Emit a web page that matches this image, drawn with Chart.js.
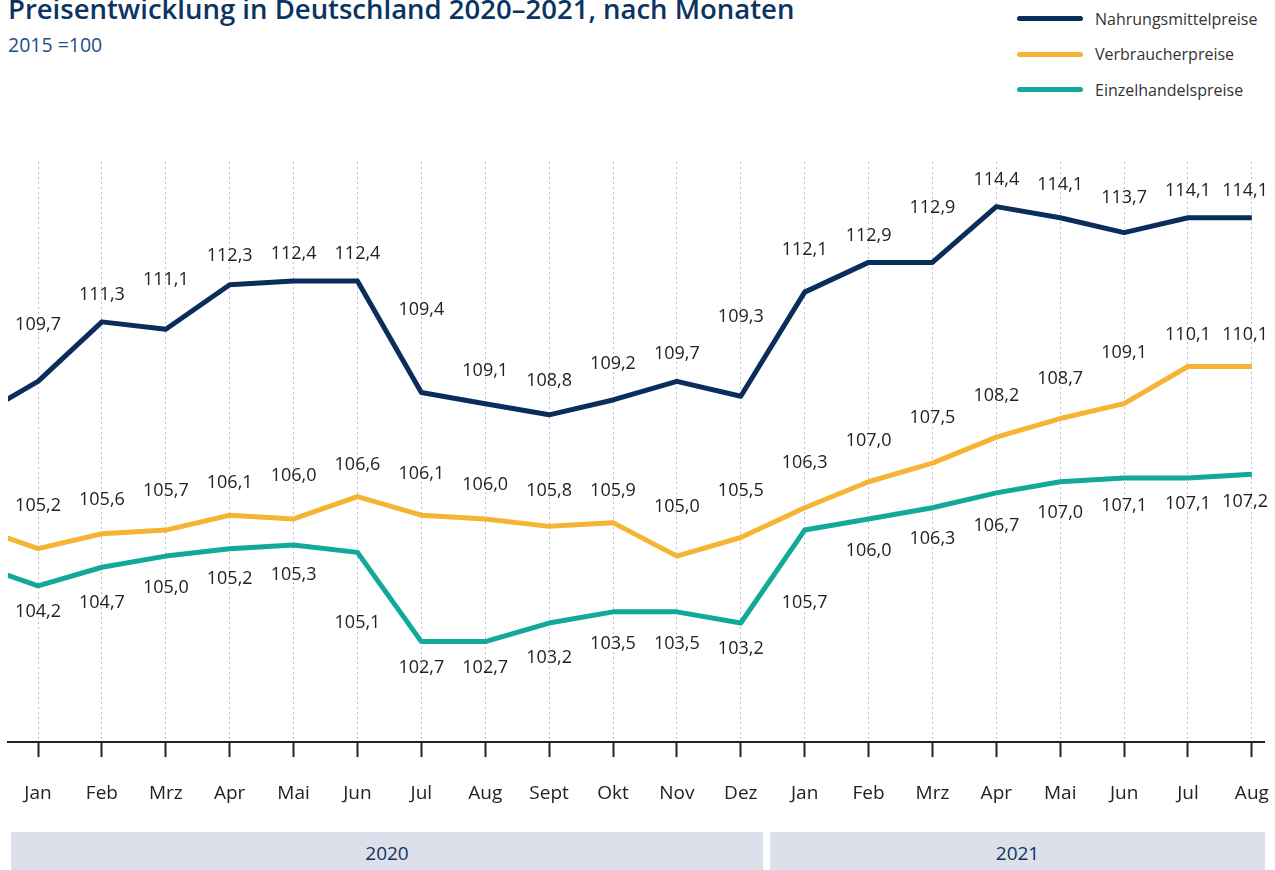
<!DOCTYPE html>
<html lang="de">
<head>
<meta charset="utf-8">
<title>Preisentwicklung in Deutschland 2020–2021</title>
<script src="https://cdn.jsdelivr.net/npm/chart.js@4/dist/chart.umd.min.js"></script>
<style>
  html, body { margin: 0; padding: 0; background: #fff; }
  body { width: 1275px; height: 870px; position: relative; overflow: hidden; font-family: "Open Sans", sans-serif; }
  .title { position: absolute; left: 8px; top: -10px; font-size: 27.5px; font-weight: 600; color: #0b3463; white-space: nowrap; }
  .sub { position: absolute; left: 8px; top: 31px; font-size: 19.5px; color: #1d4f85; }
  .legend { position: absolute; left: 1017px; top: 1px; font-size: 16px; color: #333; }
  .legend div { height: 35.5px; display: flex; align-items: center; }
  .legend span { display: inline-block; width: 66px; height: 5px; border-radius: 3px; margin-right: 12px; }
  .wrap { position: absolute; left: 0; top: 0; width: 1275px; height: 820px; }
  .year { position: absolute; top: 832px; height: 42px; background: #dde0ea; color: #0b3463; font-size: 19px; font-weight: 500; display: flex; align-items: center; justify-content: center; }
</style>
</head>
<body>
<div class="title">Preisentwicklung in Deutschland 2020–2021, nach Monaten</div>
<div class="sub">2015 =100</div>
<div class="legend" id="legend"></div>
<div class="wrap"><canvas id="myChart"></canvas></div>
<div class="year" style="left:11px;width:752px">2020</div>
<div class="year" style="left:770px;width:495px">2021</div>

<script>
// Monate Jan 2020 bis Aug 2021
let months = ['Jan', 'Feb', 'Mrz', 'Apr', 'Mai', 'Jun', 'Jul', 'Aug', 'Sept', 'Okt', 'Nov', 'Dez',
              'Jan', 'Feb', 'Mrz', 'Apr', 'Mai', 'Jun', 'Jul', 'Aug']

// erster Wert = Dez 2019 (nur angeschnitten am linken Rand)
let nahrung = [108.7, 109.7, 111.3, 111.1, 112.3, 112.4, 112.4, 109.4, 109.1, 108.8, 109.2, 109.7, 109.3,
               112.1, 112.9, 112.9, 114.4, 114.1, 113.7, 114.1, 114.1]
let verbraucher = [105.8, 105.2, 105.6, 105.7, 106.1, 106.0, 106.6, 106.1, 106.0, 105.8, 105.9, 105.0, 105.5,
                   106.3, 107.0, 107.5, 108.2, 108.7, 109.1, 110.1, 110.1]
let einzelhandel = [104.8, 104.2, 104.7, 105.0, 105.2, 105.3, 105.1, 102.7, 102.7, 103.2, 103.5, 103.5, 103.2,
                    105.7, 106.0, 106.3, 106.7, 107.0, 107.1, 107.1, 107.2]

let series = [
  { label: 'Nahrungsmittelpreise', values: nahrung, color: '#0a2d5c', side: 'above', gap: 27 },
  { label: 'Verbraucherpreise', values: verbraucher, color: '#f6b434', side: 'above', gap: 32 },
  { label: 'Einzelhandelspreise', values: einzelhandel, color: '#12a89a', side: 'below', gap: 26 }
]

let legend = document.getElementById('legend')
legend.innerHTML = series.map(s => `<div><span style="background:${s.color}"></span>${s.label}</div>`).join('')

const fmt = v => v.toFixed(1).replace('.', ',')

const valueLabels = {
  id: 'valueLabels',
  afterDatasetsDraw(chart) {
    const ctx = chart.ctx
    ctx.save()
    ctx.font = '18px "Open Sans"'
    ctx.fillStyle = '#222'
    ctx.textAlign = 'center'
    ctx.textBaseline = 'middle'
    chart.data.datasets.forEach((ds, di) => {
      const pts = chart.getDatasetMeta(di).data
      pts.forEach((p, i) => {
        if (i === 0) return
        let ys = [p.y]
        if (pts[i - 1]) ys.push((p.y + pts[i - 1].y) / 2)
        if (pts[i + 1]) ys.push((p.y + pts[i + 1].y) / 2)
        const y = ds.side === 'below' ? Math.max(...ys) + ds.gap : Math.min(...ys) - ds.gap
        const txt = fmt(ds.data[i].y)
        const w = ctx.measureText(txt).width
        const x = Math.min(p.x, chart.width - 7 - w / 2)
        ctx.fillText(txt, x, y)
      })
    })
    ctx.restore()
  }
}

const ctx = document.getElementById('myChart')

new Chart(ctx, {
  type: 'line',
  data: {
    datasets: series.map(s => ({
      label: s.label,
      data: s.values.map((v, i) => ({ x: i - 1, y: v })),
      borderColor: s.color,
      backgroundColor: s.color,
      borderWidth: 5,
      pointRadius: 0,
      tension: 0,
      borderJoinStyle: 'round',
      clip: 0,
      side: s.side,
      gap: s.gap
    }))
  },
  options: {
    responsive: true,
    maintainAspectRatio: false,
    animation: false,
    layout: { padding: { left: 8, right: 11, top: 162, bottom: 8 } },
    plugins: { legend: { display: false }, tooltip: { enabled: false } },
    scales: {
      x: {
        type: 'linear',
        min: -0.47,
        max: 19.19,
        afterBuildTicks: scale => { scale.ticks = months.map((m, i) => ({ value: i })) },
        afterFit: scale => {
          scale.height = 70
          scale.paddingLeft = 0
          scale.paddingRight = 0
        },
        ticks: {
          autoSkip: false,
          maxRotation: 0,
          padding: 25,
          color: '#222',
          font: { family: 'Open Sans', size: 19 },
          callback: v => months[v]
        },
        grid: {
          color: '#bcb8d8',
          lineWidth: 1,
          tickLength: 15,
          tickColor: '#222',
          tickWidth: 2,
          tickBorderDash: []
        },
        border: { display: true, color: '#222', width: 2, dash: [2, 3] }
      },
      y: {
        display: false,
        min: 100,
        max: 115.6
      }
    }
  },
  plugins: [valueLabels]
})
</script>
</body>
</html>
